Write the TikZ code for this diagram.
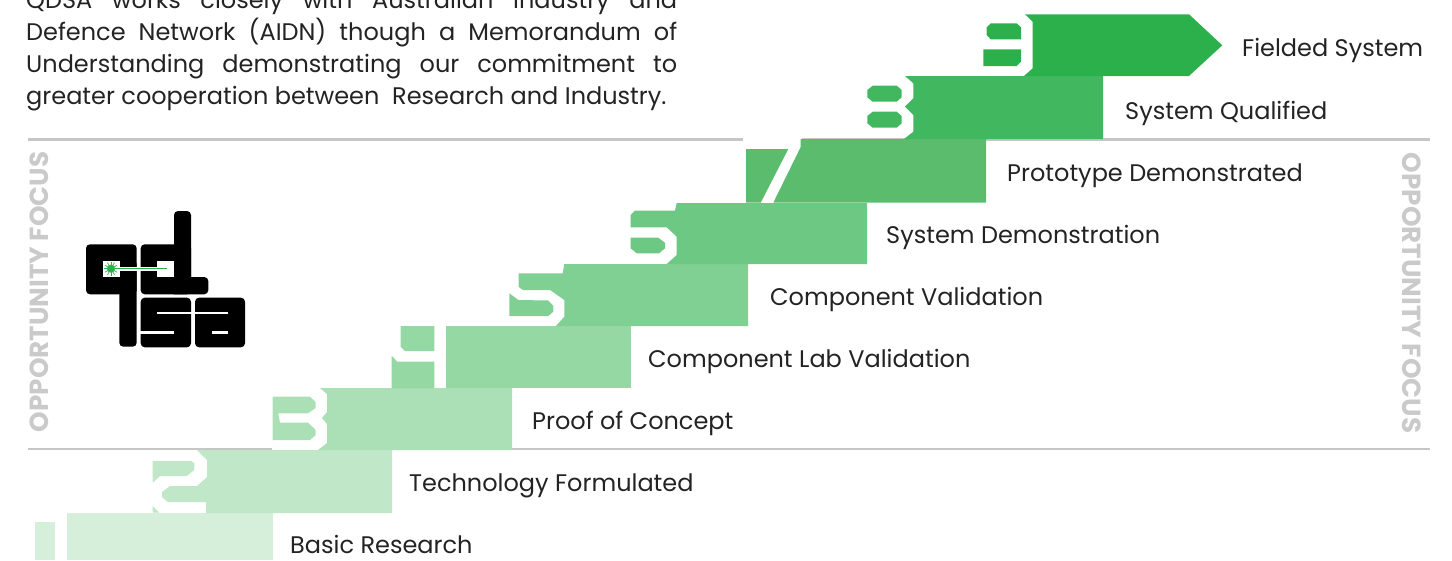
\documentclass[tikz,border=0pt]{standalone}
\usepackage{fontspec}
\setmainfont{Poppins}
\definecolor{sa}{HTML}{D5EFDB}
\definecolor{sb}{HTML}{C0E7C8}
\definecolor{sc}{HTML}{ABE0B6}
\definecolor{sd}{HTML}{96D8A4}
\definecolor{se}{HTML}{81D093}
\definecolor{sf}{HTML}{6CC883}
\definecolor{sg}{HTML}{5CBC6E}
\definecolor{sh}{HTML}{41B85F}
\definecolor{si}{HTML}{2CB04C}
\definecolor{ink}{HTML}{232323}
\definecolor{rule}{HTML}{C6C6C6}
\definecolor{focus}{HTML}{CACACA}
\tikzset{
  lab/.style={anchor=base west,inner sep=0pt,text=ink,font=\fontsize{24}{24}\selectfont},
  para/.style={anchor=base west,inner sep=0pt,text=ink,font=\fontsize{24}{24}\selectfont},
  foc/.style={inner sep=0pt,text=focus,font=\bfseries\fontsize{26.2}{26.2}\selectfont},
  rl/.style={draw=rule,line width=2.5pt},
  ink/.style={fill=black,rounded corners=4pt},
  slit/.style={fill=white}
}
\newcommand{\jline}[1]{\makebox[651pt][s]{#1}}
\begin{document}
\begin{tikzpicture}[x=1pt,y=-1pt]
\useasboundingbox (0,0) rectangle (1452,560);
\clip (0,0) rectangle (1452,560);
% paragraph
\node[para] (p1) at (26,8) {\jline{QDSA works closely with Australian Industry and}};
\node[para] (p2) at (26,40) {\jline{Defence Network (AIDN) though a Memorandum of}};
\node[para] (p3) at (26,72) {\jline{Understanding demonstrating our commitment to}};
\node[para] (p4) at (26,104) {greater cooperation between\ \ Research and Industry.};
% rules
\draw[rl] (28,139.5) -- (1430,139.5);
\draw[rl] (28,449) -- (1430,449);
% focus labels
\node[foc,rotate=90] (fl) at (39.5,292) {OPPORTUNITY FOCUS};
\node[foc,rotate=-90] (fr) at (1412,293) {OPPORTUNITY FOCUS};
% step 1
\fill[white] (35,513) rectangle (67,560);
\fill[sa] (67,512.5) rectangle (272.5,560);
\fill[sa] (35,522) rectangle (55,560);
% step 2
\fill[white] (152,450) rectangle (210,513);
\fill[sb] (197,450) -- (392,450) -- (392,513) -- (206,513) -- (206,502) -- (168,502) -- (162,497) -- (162,492) -- (170,486) -- (197,486) -- (207,477) -- (207,460) -- cycle;
\fill[sb] (152.7,461) -- (191.7,461) -- (194.3,463.5) -- (194.3,470) -- (186.7,476) -- (160,476) -- (152.7,482.7) -- cycle;
\fill[sb] (152.7,506) -- (159,512.5) -- (152.7,512.5) -- cycle;
% step 3
\fill[white] (272,388) rectangle (330,450);
\fill[sc] (320,388) -- (512,388) -- (512,450) -- (318,450) -- (327,443) -- (327,424) -- (322,418) -- (327,412) -- (327,394) -- cycle;
\fill[sc] (272.7,396.7) -- (310,396.7) -- (315.7,402) -- (315.7,408) -- (308,413.3) -- (278.3,413.3) -- (280,422.7) -- (308,422.7) -- (315.7,430) -- (315.7,435) -- (310,440) -- (272.7,440) -- cycle;
% step 4
\fill[sd] (446.3,326) rectangle (631,388.3);
\fill[sd] (400.7,326) -- (434.3,326) -- (434.3,351) -- (405,351) -- (400.7,346.7) -- cycle;
\fill[sd] (391.7,355.7) -- (397.3,361.7) -- (434.3,361.7) -- (434.3,388.3) -- (391.7,388.3) -- cycle;
% step 5
\fill[se] (564.3,264) -- (748,264) -- (748,326) -- (556,326) -- (564.3,316.7) -- (564.3,300) -- (550,290) -- (523,290) -- (518.7,287) -- (518.7,273.3) -- (562.7,273.3) -- cycle;
\fill[se] (509.3,293.3) -- (518.3,300) -- (548.3,300.5) -- (553.3,306) -- (553.3,311.7) -- (548.3,316) -- (509.3,316) -- cycle;
% step 6
\fill[sf] (676.7,203) -- (867,203) -- (867,264) -- (666.7,264) -- (676.7,255) -- (676.7,236.7) -- (666.7,227.3) -- (630.7,227.3) -- (630.7,215) -- (635,210.7) -- (675,210.7) -- cycle;
\fill[sf] (630.7,237.7) -- (658.3,237.7) -- (665,242.7) -- (665,248.3) -- (659,253.3) -- (636.7,253.3) -- (630.7,248.3) -- cycle;
% step 7
\fill[white] (743,137.5) rectangle (802,141.5);
\fill[sg] (800.7,139) -- (986,139) -- (986,202.7) -- (773.3,202.7) -- (800.7,147) -- cycle;
\fill[sg] (746,149) -- (788.3,149) -- (760.7,202.7) -- (746,202.7) -- cycle;
% step 8
\fill[sh] (905,76) -- (1103,76) -- (1103,139) -- (904,139) -- (913.3,131.7) -- (913.3,115) -- (905,106.7) -- (913.3,98.3) -- (913.3,83.3) -- cycle;
\fill[sh] (867.3,90) -- (872.7,85.7) -- (896.7,85.7) -- (901.7,90) -- (901.7,97.3) -- (896.7,101.7) -- (872.7,101.7) -- (867.3,97.3) -- cycle;
\fill[sh] (867.3,116) -- (872.7,111.7) -- (896.7,111.7) -- (901.7,116) -- (901.7,123.3) -- (896.7,127.7) -- (872.7,127.7) -- (867.3,123.3) -- cycle;
% step 9
\fill[si] (1025,14.3) -- (1189,14.3) -- (1222.3,45.3) -- (1189,76) -- (1024,76) -- (1032.7,68.3) -- (1032.7,21.7) -- cycle;
\fill[si] (986.7,27.3) -- (990.7,23.3) -- (1016.7,23.3) -- (1021,27.3) -- (1021,39.3) -- (990.7,39.3) -- (986.7,35) -- cycle;
\fill[si] (983.3,49.3) -- (1021,49.3) -- (1021,61.7) -- (1016.7,66) -- (983.3,66) -- cycle;
% step labels
\node[lab] (t9) at (1242,56) {Fielded System};
\node[lab] (t8) at (1125,119) {System Qualified};
\node[lab] (t7) at (1007,181) {Prototype Demonstrated};
\node[lab] (t6) at (886,243) {System Demonstration};
\node[lab] (t5) at (770,305) {Component Validation};
\node[lab] (t4) at (648,367) {Component Lab Validation};
\node[lab] (t3) at (532,429) {Proof of Concept};
\node[lab] (t2) at (409,491) {Technology Formulated};
\node[lab] (t1) at (290,553) {Basic Research};
% logo: q and i
\fill[ink] (86,244.3) rectangle (136.7,294.3);
\fill[ink] (119.3,260) rectangle (136.7,346.7);
% logo: d
\fill[ink] (140.7,244.3) rectangle (191,294.3);
\fill[ink] (174,211) rectangle (191,290);
\fill[ink] (170,277) rectangle (208.3,294.3);
% logo: s, a
\fill[ink] (140.7,297.7) rectangle (191,347.3);
\fill[ink] (195,297.7) rectangle (245,347.3);
% logo cut-outs
\fill[white] (103.3,260.7) rectangle (120,276.7);
\fill[slit] (156.7,260.7) rectangle (174,277);
\fill[slit] (120,267.4) rectangle (157,270.6);
\fill[slit] (157.3,311.7) rectangle (192,314.4);
\fill[slit] (140,331) rectangle (174,333.7);
\fill[slit] (194,311.7) rectangle (228.3,314.4);
\fill[slit] (211.7,331) rectangle (228.3,333.7);
% laser
\draw[si,line width=1.4pt] (111,268.7) -- (167,268.7);
\fill[si] (111,268.7) circle (4);
\foreach \a in {0,30,...,330}{\draw[si,line width=0.7pt] (111,268.7) -- ++(\a:7);}
\end{tikzpicture}
\end{document}
